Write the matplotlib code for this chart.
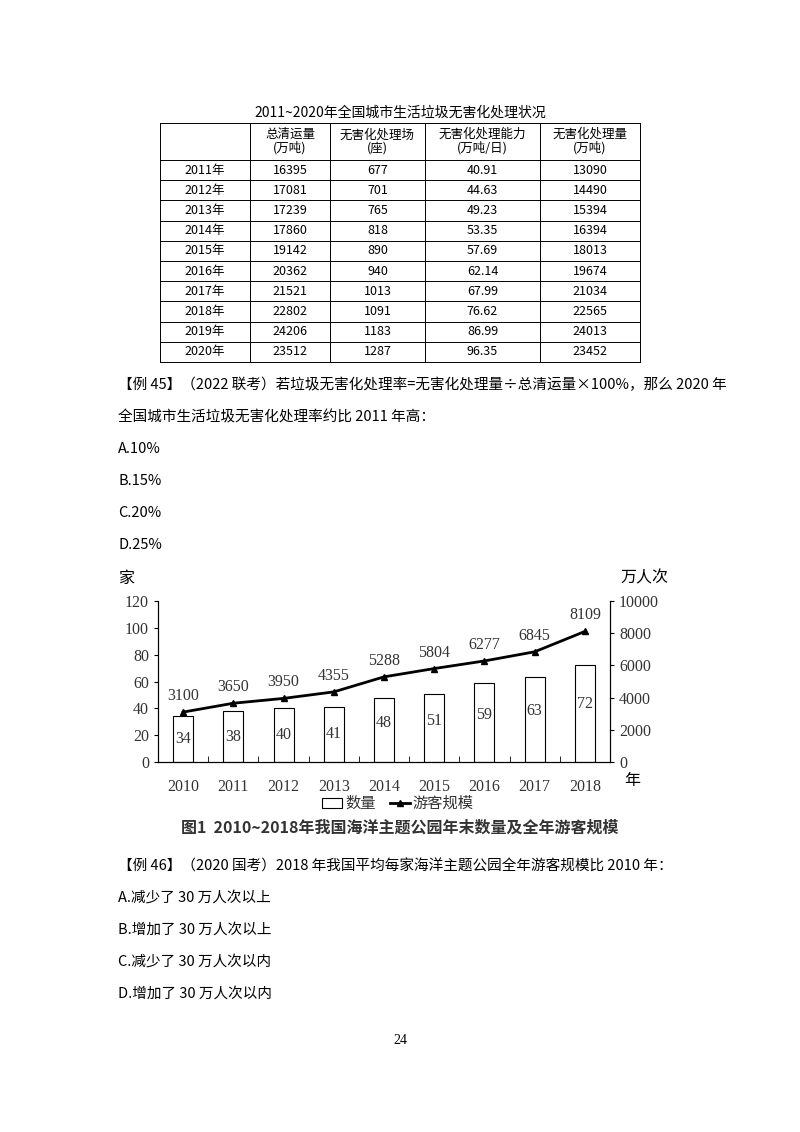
import matplotlib
matplotlib.use("Agg")
import matplotlib.pyplot as plt
from matplotlib.lines import Line2D
import numpy as np

plt.rcParams['font.family'] = ['Noto Sans CJK SC', 'DejaVu Sans']

# ---- table data ----
t_title = "2011~2020年全国城市生活垃圾无害化处理状况"
t_headers = ["", "总清运量\n(万吨)", "无害化处理场\n(座)", "无害化处理能力\n(万吨/日)", "无害化处理量\n(万吨)"]
t_years = ["2011年", "2012年", "2013年", "2014年", "2015年", "2016年", "2017年", "2018年", "2019年", "2020年"]
t_total = [16395, 17081, 17239, 17860, 19142, 20362, 21521, 22802, 24206, 23512]
t_sites = [677, 701, 765, 818, 890, 940, 1013, 1091, 1183, 1287]
t_cap = ["40.91", "44.63", "49.23", "53.35", "57.69", "62.14", "67.99", "76.62", "86.99", "96.35"]
t_amt = [13090, 14490, 15394, 16394, 18013, 19674, 21034, 22565, 24013, 23452]

# ---- chart data ----
years = ["2010", "2011", "2012", "2013", "2014", "2015", "2016", "2017", "2018"]
counts = [34, 38, 40, 41, 48, 51, 59, 63, 72]
visitors = [3100, 3650, 3950, 4355, 5288, 5804, 6277, 6845, 8109]

W, H = 800, 1132
fig = plt.figure(figsize=(8, 11.32), dpi=100)

def fx(x): return x / W
def fy(y): return 1 - y / H

serif = ['Liberation Serif', 'Noto Sans CJK SC']

# ---- table ----
fig.text(fx(400), fy(113), t_title, ha='center', va='center', fontsize=10)
cols = [160, 250, 330, 425, 540, 640]
rows = [123, 160] + [160 + 20.2 * (i + 1) for i in range(10)]
for x in cols:
    fig.add_artist(Line2D([fx(x), fx(x)], [fy(rows[0]), fy(rows[-1])], color='black', lw=0.7))
for y in rows:
    fig.add_artist(Line2D([fx(cols[0]), fx(cols[-1])], [fy(y), fy(y)], color='black', lw=0.7))
for j, h in enumerate(t_headers):
    cx = (cols[j] + cols[j + 1]) / 2
    fig.text(fx(cx), fy(141.5), h, ha='center', va='center', fontsize=9, linespacing=1.05)
for i in range(10):
    cy = (rows[i + 1] + rows[i + 2]) / 2
    vals = [t_years[i], str(t_total[i]), str(t_sites[i]), t_cap[i], str(t_amt[i])]
    for j, v in enumerate(vals):
        cx = (cols[j] + cols[j + 1]) / 2
        fig.text(fx(cx), fy(cy), v, ha='center', va='center', fontsize=9)

# ---- text ----
fs = 10.5
fig.text(fx(118), fy(385), "【例 45】（2022 联考）若垃圾无害化处理率=无害化处理量÷总清运量×100%，那么 2020 年", fontsize=fs, va='center')
fig.text(fx(118), fy(417), "全国城市生活垃圾无害化处理率约比 2011 年高：", fontsize=fs, va='center')
for k, t in enumerate(["A.10%", "B.15%", "C.20%", "D.25%"]):
    fig.text(fx(118), fy(449 + 32 * k), t, fontsize=fs, va='center')

# ---- chart ----
ax = fig.add_axes([fx(158), fy(762), fx(610 - 158), (762 - 601) / H])
x = np.arange(len(years))
ax.bar(x, counts, width=0.4, facecolor='white', edgecolor='black', lw=0.8)
for xi, c in zip(x, counts):
    ax.text(xi, c / 2 if c < 45 else c * 0.6, str(c), ha='center', va='center', fontsize=11.5, family=serif, color='#333')
ax.set_xlim(-0.5, len(years) - 0.5)
ax.set_ylim(0, 120)
ax.set_yticks(range(0, 121, 20))
ax.set_xticks(x)
ax.set_xticklabels(years, family=serif, fontsize=11.5, color='#333')
for l in ax.get_yticklabels():
    l.set_family(serif); l.set_fontsize(11.5); l.set_color('#333')
ax.spines['top'].set_visible(False)
ax.tick_params(axis='x', length=0, pad=12)
ax.tick_params(axis='y', direction='out', length=3)
ax.set_xticks(np.arange(-0.5, len(years), 1), minor=True)
ax.tick_params(axis='x', which='minor', length=4, direction='in')
ax2 = ax.twinx()
ax2.plot(x, visitors, color='black', lw=2, marker='^', ms=4)
for xi, v in zip(x, visitors):
    ax2.text(xi, v + 500, str(v), ha='center', va='bottom', fontsize=11.5, family=serif, color='#333')
ax2.set_ylim(0, 10000)
ax2.set_yticks(range(0, 10001, 2000))
for l in ax2.get_yticklabels():
    l.set_family(serif); l.set_fontsize(11.5); l.set_color('#333')
ax2.spines['top'].set_visible(False)
ax2.tick_params(axis='y', direction='out', length=3)
fig.text(fx(118), fy(578), "家", fontsize=11.5, va='center')
fig.text(fx(620), fy(578), "万人次", fontsize=11.5, va='center')
fig.text(fx(624), fy(781), "年", fontsize=11.5, va='center')

# legend
fig.add_artist(plt.Rectangle((fx(322), fy(808)), fx(20), 10 / H, facecolor='white', edgecolor='black', lw=0.8))
fig.text(fx(345), fy(803), "数量", fontsize=11, va='center', color='#333')
fig.add_artist(Line2D([fx(390), fx(410)], [fy(803), fy(803)], color='black', lw=2))
fig.add_artist(Line2D([fx(400)], [fy(803)], color='black', marker='^', ms=4))
fig.text(fx(412), fy(803), "游客规模", fontsize=11, va='center', color='#333')
fig.text(fx(400), fy(828), "图1  2010~2018年我国海洋主题公园年末数量及全年游客规模", ha='center', va='center',
         fontsize=11.5, weight='bold', color='#333')

fig.text(fx(118), fy(866), "【例 46】（2020 国考）2018 年我国平均每家海洋主题公园全年游客规模比 2010 年：", fontsize=fs, va='center')
for k, t in enumerate(["A.减少了 30 万人次以上", "B.增加了 30 万人次以上", "C.减少了 30 万人次以内", "D.增加了 30 万人次以内"]):
    fig.text(fx(118), fy(898 + 32 * k), t, fontsize=fs, va='center')
fig.text(fx(400), fy(1040), "24", ha='center', va='center', fontsize=10, family=serif)

fig.savefig("out.png", dpi=100, facecolor='white')
